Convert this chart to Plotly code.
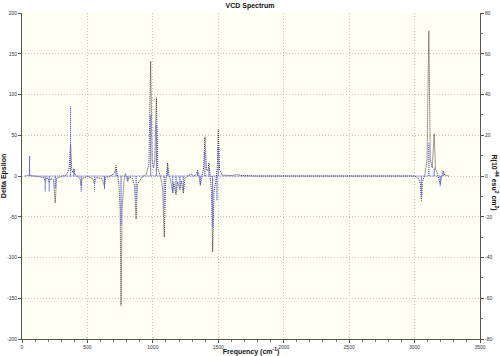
import plotly.graph_objects as go

# Broadened VCD spectrum (Delta Epsilon)
curve_freq = [20, 50, 58, 66, 120, 165, 177, 188, 200, 208, 218, 240, 254, 264, 300,
              340, 360, 371, 380, 390, 397, 405, 430, 445, 452, 460, 500, 540, 554, 566,
              610, 630, 640, 690, 710, 718, 726, 740, 750, 757, 765, 780, 790, 800, 808,
              818, 845, 860, 872, 882, 920, 950, 970, 983, 995, 1005, 1015, 1027, 1038,
              1060, 1075, 1087, 1097, 1105, 1113, 1122, 1135, 1152, 1160, 1177, 1190,
              1207, 1218, 1233, 1245, 1270, 1297, 1310, 1330, 1342, 1352, 1363, 1375,
              1388, 1398, 1410, 1420, 1429, 1438, 1448, 1457, 1467, 1480, 1492, 1500,
              1510, 1530, 1600, 1650, 1670, 1800, 2500, 3000, 3030, 3045, 3052, 3060,
              3080, 3095, 3109, 3120, 3135, 3150, 3160, 3170, 3185, 3196, 3205, 3219,
              3230, 3260]
curve_de = [0, 0.5, 2, 0.5, -0.5, -2, -6, -2, -3, -8, -3, -4, -33, -3, -0.5,
            1, 10, 39, 8, 4, 9, 2, -1, -4, -12, -3, -0.5, -3, -10, -2,
            -3, -12, -2, 1, 5, 13, 4, -8, -40, -159, -40, -5, 3, -2, -7,
            -1, -3, -12, -53, -10, -1, 2, 15, 141, 20, 10, 20, 96, 10,
            -2, -15, -75, -10, 3, 16, 2, -5, -21, -8, -23, -7,
            -17, -6, -21, -3, 1, 2, 0, 2, 7, 1, -11, -1,
            10, 48, 8, 6, 16, 0, -20, -93, -20, -8, 10, 57,
            8, 1, 0.5, 2, 0.5, 0, 0, 0, -3, -10, -30, -8,
            3, 20, 178, 20, 10, 52, 8, 5, -3, -10, -3, 6,
            1, 0]

# Rotational strengths (sticks, right axis)
stick_freq = [58, 177, 208, 254, 371, 397, 452, 554, 630, 718, 757, 808, 872, 983,
              1027, 1087, 1113, 1152, 1177, 1207, 1233, 1342, 1363, 1398, 1429, 1457,
              1490, 1500, 3052, 3109, 3150, 3196, 3219]
stick_r = [9.8, -7.6, -7.6, -6, 34, 3, -7.6, -7.6, -6.4, 3, -24, -2, -12, 30,
           25, -16, 4, -8, -8, -6, -7, 2, -4.6, 12, 4, -25,
           -12, 14, -10, 16, 4, -5, 2]

x_ticks = [0, 500, 1000, 1500, 2000, 2500, 3000, 3500]
y_ticks = [-200, -150, -100, -50, 0, 50, 100, 150, 200]
y2_ticks = [-80, -60, -40, -20, 0, 20, 40, 60, 80]

sx, sy = [], []
for f, r in zip(stick_freq, stick_r):
    sx += [f, f, f]
    sy += [0, r, 0]

fig = go.Figure()
fig.add_trace(go.Scatter(x=sx, y=sy, yaxis="y2", mode="lines",
                         line=dict(color="#5c5cff", width=1, dash="1px,1px"),
                         showlegend=False, hoverinfo="skip"))
fig.add_trace(go.Scatter(x=curve_freq, y=curve_de, mode="lines",
                         line=dict(color="#3a3a3a", width=1, dash="1px,1px"),
                         showlegend=False))

FONT = "Liberation Sans, Arial, sans-serif"
tickfont = dict(family=FONT, size=5, color="#333")
titlefont = dict(family=FONT, size=7, color="#111")

fig.update_layout(
    width=500, height=356,
    margin=dict(l=22, r=20, t=13, b=17, autoexpand=False),
    paper_bgcolor="white",
    plot_bgcolor="#fffff3",
    title=dict(text="<b>VCD Spectrum</b>", x=0.5, xanchor="center", y=0.99,
               yanchor="top", font=titlefont),
    xaxis=dict(range=[0, 3500], tickvals=x_ticks, ticktext=[str(v) for v in x_ticks],
               showgrid=True, gridcolor="#c4c4c4", griddash="1px,2px", gridwidth=1,
               zeroline=False, showline=True, linecolor="#555", linewidth=1,
               ticks="outside", ticklen=3, tickcolor="#555", tickfont=tickfont,
               automargin=False,
               minor=dict(dtick=100, ticks="outside", ticklen=2, tickcolor="#777",
                          showgrid=False),
               title=dict(text="<b>Frequency (cm<sup>-1</sup>)</b>", font=titlefont,
                          standoff=0)),
    yaxis=dict(range=[-200, 200], tickvals=y_ticks, ticktext=[str(v) for v in y_ticks],
               showgrid=True, gridcolor="#c4c4c4", griddash="1px,2px", gridwidth=1,
               zeroline=False, showline=True, linecolor="#555", linewidth=1,
               ticks="outside", ticklen=3, tickcolor="#555", tickfont=tickfont,
               automargin=False,
               title=dict(text="<b>Delta Epsilon</b>", font=titlefont, standoff=0)),
    yaxis2=dict(range=[-80, 80], tickvals=y2_ticks, ticktext=[str(v) for v in y2_ticks],
                overlaying="y", side="right", showgrid=False, zeroline=False,
                showline=True, linecolor="#555", linewidth=1,
                ticks="outside", ticklen=3, tickcolor="#555", tickfont=tickfont,
                automargin=False,
                minor=dict(dtick=10, ticks="outside", ticklen=2, tickcolor="#777")),
    annotations=[dict(text="<b>R(10<sup>-44</sup> esu<sup>2</sup> cm<sup>2</sup>)</b>",
                      xref="paper", yref="paper", x=1.0, y=0.48, xshift=14,
                      textangle=90, showarrow=False, font=titlefont,
                      xanchor="center", yanchor="middle")],
)

fig.write_html("out.html")
